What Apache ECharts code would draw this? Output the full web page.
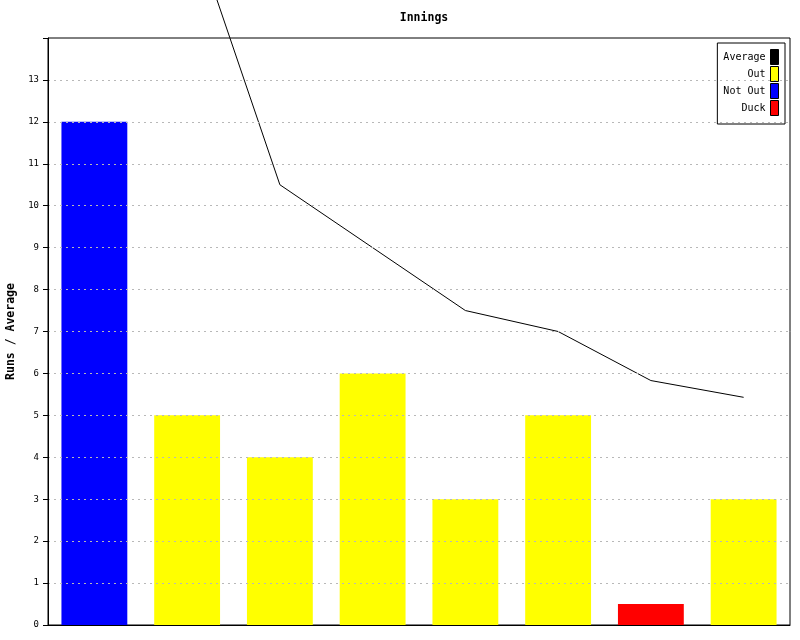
<!DOCTYPE html>
<html>
<head>
<meta charset="utf-8">
<script src="https://cdn.jsdelivr.net/npm/echarts@6/dist/echarts.min.js"></script>
<style>html,body{margin:0;padding:0;background:#fff;}#c{width:800px;height:640px;}</style>
</head>
<body>
<div id="c"></div>
<script>
var categories = ['1', '2', '3', '4', '5', '6', '7', '8'];
var outRuns    = [null, 5, 4, 6, 3, 5, null, 3];
var notOutRuns = [12, null, null, null, null, null, null, null];
var duckRuns   = [null, null, null, null, null, null, 0.5, null];
var average    = [null, 17, 10.5, 9, 7.5, 7, 5.83, 5.43];
var yTicks     = [0, 1, 2, 3, 4, 5, 6, 7, 8, 9, 10, 11, 12, 13];

var FONT = 'DejaVu Sans Mono';
var chart = echarts.init(document.getElementById('c'), null, {renderer: 'canvas'});
chart.setOption({
  animation: false,
  backgroundColor: '#ffffff',
  textStyle: {fontFamily: FONT},
  title: {
    text: 'Innings', left: 419, top: 7, textAlign: 'center',
    textStyle: {fontFamily: FONT, fontSize: 11.5, fontWeight: 'bold', color: '#000'}
  },
  grid: {left: 48, right: 10, top: 38, bottom: 15, containLabel: false, outerBoundsMode: 'none',
         show: true, borderColor: '#000', borderWidth: 1, backgroundColor: 'transparent'},
  legend: {
    orient: 'vertical', right: 15, top: 43, align: 'right',
    data: ['Average', 'Out', 'Not Out', 'Duck'],
    formatter: function (n) { return n.padStart(7, ' '); },
    icon: 'rect', itemWidth: 8, itemHeight: 15, itemGap: 1,
    padding: [6, 6, 8, 6],
    backgroundColor: '#fff', borderColor: '#000', borderWidth: 1, borderRadius: 0,
    itemStyle: {borderColor: '#000', borderWidth: 1},
    textStyle: {fontFamily: FONT, fontSize: 10, color: '#000', lineHeight: 15},
    selectedMode: false
  },
  xAxis: {
    type: 'category', data: categories,
    axisLine: {show: true, lineStyle: {color: '#000', width: 1}},
    axisTick: {show: false}, axisLabel: {show: false}, splitLine: {show: false}
  },
  yAxis: {
    type: 'value', min: 0, max: 14, interval: 1, z: 5,
    name: 'Runs / Average', nameLocation: 'middle', nameGap: 28, nameRotate: 90,
    nameTextStyle: {fontFamily: FONT, fontSize: 11.5, fontWeight: 'bold', color: '#000'},
    axisLine: {show: true, lineStyle: {color: '#000', width: 1}},
    axisTick: {show: true, length: 5, lineStyle: {color: '#000'}},
    axisLabel: {
      fontFamily: FONT, fontSize: 9, color: '#000', margin: 9,
      formatter: function (v) { return yTicks.indexOf(v) >= 0 ? String(v) : ''; }
    },
    splitLine: {show: true, showMinLine: false, showMaxLine: false,
                lineStyle: {color: '#b8b8b8', type: [2, 4], width: 1}}
  },
  series: [
    {name: 'Out', type: 'bar', data: outRuns, barGap: '-100%', barCategoryGap: '29%', itemStyle: {color: '#ffff00'}},
    {name: 'Not Out', type: 'bar', data: notOutRuns, barGap: '-100%', barCategoryGap: '29%', itemStyle: {color: '#0000ff'}},
    {name: 'Duck', type: 'bar', data: duckRuns, barGap: '-100%', barCategoryGap: '29%', itemStyle: {color: '#ff0000'}},
    {name: 'Average', type: 'line', data: average, clip: false, showSymbol: false, symbol: 'none',
     connectNulls: false, lineStyle: {color: '#000', width: 1}, itemStyle: {color: '#000'}, z: 4}
  ]
});
</script>
</body>
</html>
